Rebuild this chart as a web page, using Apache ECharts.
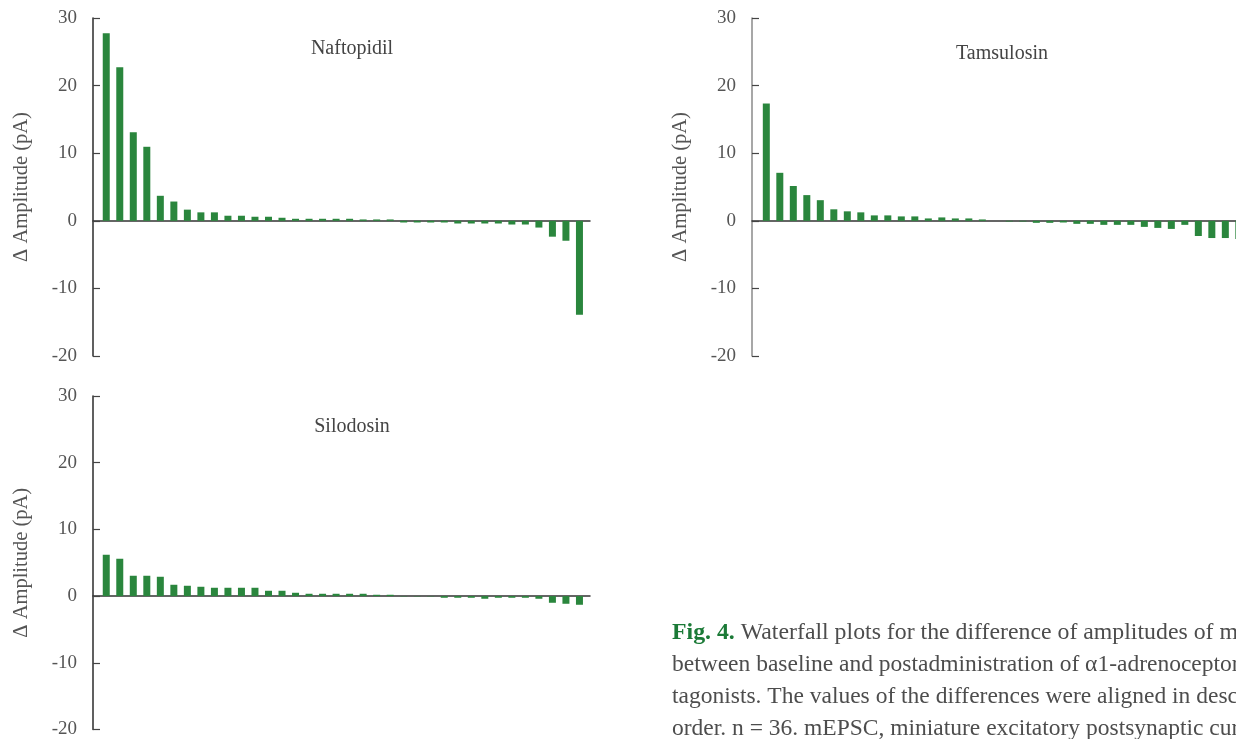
<!DOCTYPE html>
<html>
<head>
<meta charset="utf-8">
<script src="https://cdn.jsdelivr.net/npm/echarts@6/dist/echarts.min.js"></script>
<style>
html,body{margin:0;padding:0;background:#fff;}
#main{width:1236px;height:739px;}
</style>
</head>
<body>
<div id="main"></div>
<script>
// ---- data ----
const panelTitles = ['Naftopidil', 'Tamsulosin', 'Silodosin'];
const yTickMin = -20, yTickMax = 30, yTickStep = 10;
const yAxisName = 'Δ Amplitude (pA)';

const naftopidil = [27.75, 22.7, 13.1, 10.95, 3.7, 2.85, 1.65, 1.25, 1.25, 0.75, 0.75, 0.6, 0.6, 0.45, 0.3, 0.3, 0.3, 0.3,
  0.3, 0.2, 0.2, 0.2, -0.25, -0.25, -0.25, -0.25, -0.4, -0.4, -0.4, -0.4, -0.55, -0.55, -1.0, -2.35, -2.95, -13.9];
const tamsulosin = [17.35, 7.1, 5.15, 3.8, 3.05, 1.7, 1.4, 1.25, 0.8, 0.8, 0.65, 0.65, 0.35, 0.5, 0.35, 0.35, 0.2, 0,
  -0.1, -0.1, -0.3, -0.3, -0.25, -0.45, -0.45, -0.6, -0.6, -0.6, -0.9, -1.05, -1.2, -0.6, -2.25, -2.55, -2.55, -2.7];
const silodosin = [6.2, 5.6, 3.05, 3.05, 2.9, 1.7, 1.55, 1.4, 1.25, 1.25, 1.25, 1.25, 0.8, 0.8, 0.5, 0.35, 0.35, 0.35,
  0.35, 0.35, 0.2, 0.2, -0.05, -0.05, -0.05, -0.25, -0.25, -0.25, -0.4, -0.25, -0.25, -0.25, -0.4, -1.0, -1.15, -1.3];

const captionLines = [
  'between baseline and postadministration of α1-adrenoceptor an-',
  'tagonists. The values of the differences were aligned in descending',
  'order. n = 36. mEPSC, miniature excitatory postsynaptic current.'
];
const captionHead = 'Fig. 4.';
const captionFirst = ' Waterfall plots for the difference of amplitudes of mEPSCs';

// ---- chart ----
const SERIF = '"Liberation Serif", "DejaVu Serif", serif';
const BAR = '#2a863d';
const seriesData = [naftopidil, tamsulosin, silodosin];
const grids = [
  {left: 93, top: 18, width: 497, height: 338},
  {left: 752, top: 18, width: 484, height: 338},
  {left: 93, top: 396, width: 497, height: 337}
];
const xRanges = [[-0.98, 35.78], [-1.06, 34.79], [-0.98, 35.78]];
const yLineColors = ['#2b2b2b', '#8a8a8a', '#2b2b2b'];

const chart = echarts.init(document.getElementById('main'), null, {renderer: 'canvas'});

const option = {
  animation: false,
  backgroundColor: '#fff',
  grid: grids.map(g => Object.assign({containLabel: false}, g)),
  xAxis: grids.map((g, i) => ({
    type: 'value', gridIndex: i, min: xRanges[i][0], max: xRanges[i][1],
    axisLine: {show: true, onZero: true, lineStyle: {color: '#333', width: 1.5}},
    axisTick: {show: false}, axisLabel: {show: false}, splitLine: {show: false}
  })),
  yAxis: grids.map((g, i) => ({
    type: 'value', gridIndex: i, min: yTickMin, max: yTickMax, interval: yTickStep,
    name: yAxisName, nameLocation: 'middle', nameGap: 61, nameRotate: 90,
    nameTextStyle: {fontFamily: SERIF, fontSize: 20.5, color: '#555'},
    axisLine: {show: true, onZero: false, lineStyle: {color: yLineColors[i], width: 1.5}},
    axisTick: {show: true, inside: true, length: 7, lineStyle: {color: '#444', width: 1.2}},
    axisLabel: {margin: 16, fontFamily: SERIF, fontSize: 19, color: '#555'},
    splitLine: {show: false}
  })),
  series: seriesData.map((arr, i) => ({
    type: 'bar', xAxisIndex: i, yAxisIndex: i, barWidth: 7,
    itemStyle: {color: BAR},
    data: arr.map((v, k) => [k, v])
  })),
  graphic: [
    {type: 'text', x: 352, y: 49, style: {text: panelTitles[0], font: '20px ' + SERIF, fill: '#444', align: 'center', verticalAlign: 'middle'}},
    {type: 'text', x: 1002, y: 54, style: {text: panelTitles[1], font: '20px ' + SERIF, fill: '#444', align: 'center', verticalAlign: 'middle'}},
    {type: 'text', x: 352, y: 427, style: {text: panelTitles[2], font: '20px ' + SERIF, fill: '#444', align: 'center', verticalAlign: 'middle'}},
    {type: 'text', x: 672, y: 633, style: {
      text: '{h|' + captionHead + '}{t|' + captionFirst + '}',
      verticalAlign: 'middle',
      rich: {
        h: {font: 'bold 23.8px ' + SERIF, fill: '#1b7a37'},
        t: {font: '23.8px ' + SERIF, fill: '#4d4d4d'}
      }
    }},
    ...captionLines.map((line, k) => ({
      type: 'text', x: 672, y: 665 + k * 32,
      style: {text: line, font: '23.5px ' + SERIF, fill: '#4d4d4d', verticalAlign: 'middle'}
    }))
  ]
};
chart.setOption(option);
</script>
</body>
</html>
